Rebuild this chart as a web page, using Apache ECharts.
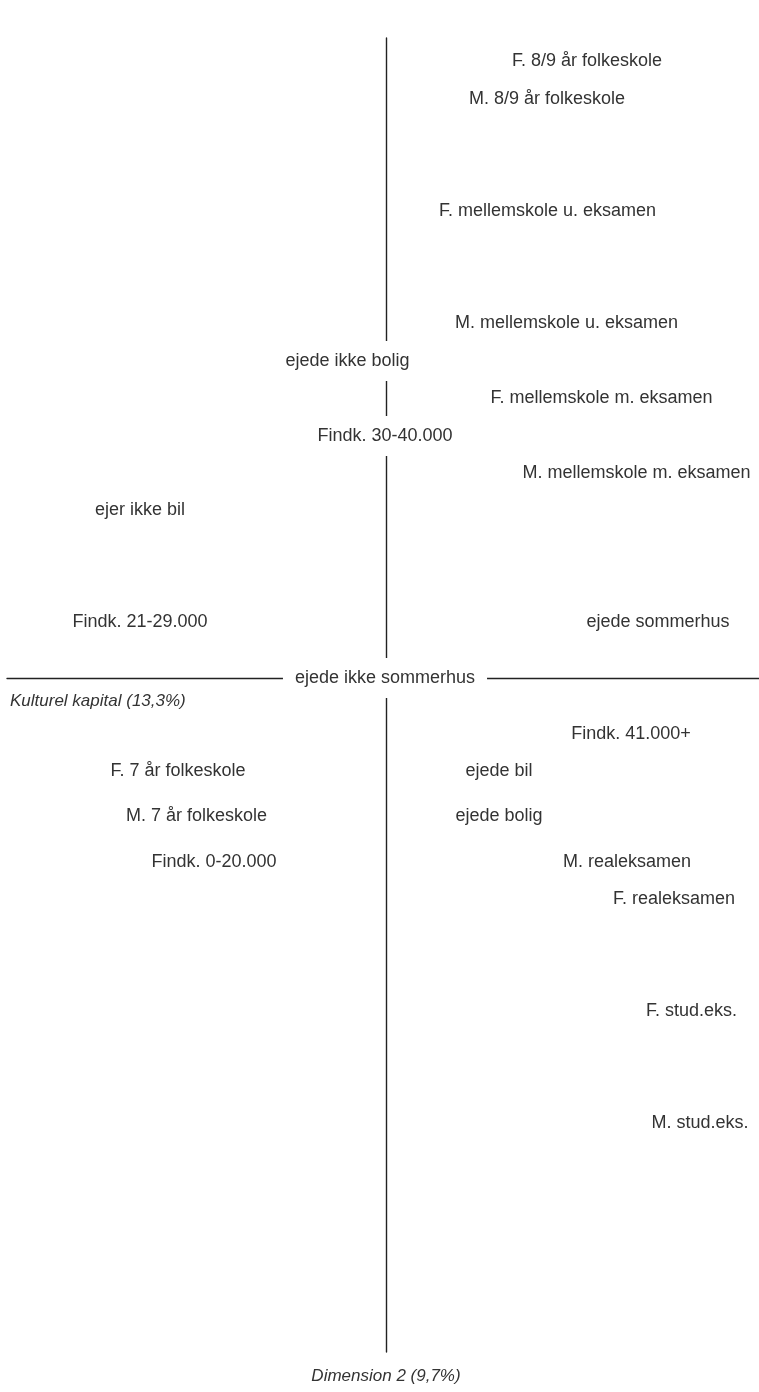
<!DOCTYPE html>
<html>
<head>
<meta charset="utf-8">
<script src="https://cdn.jsdelivr.net/npm/echarts@6/dist/echarts.min.js"></script>
<style>html,body{margin:0;padding:0;background:#fff}#c{width:759px;height:1392px}</style>
</head>
<body>
<div id="c"></div>
<script>
const labels = ["F. 8/9 år folkeskole","M. 8/9 år folkeskole","F. mellemskole u. eksamen","M. mellemskole u. eksamen","ejede ikke bolig","F. mellemskole m. eksamen","Findk. 30-40.000","M. mellemskole m. eksamen","ejer ikke bil","Findk. 21-29.000","ejede sommerhus","ejede ikke sommerhus","Findk. 41.000+","F. 7 år folkeskole","ejede bil","M. 7 år folkeskole","ejede bolig","Findk. 0-20.000","M. realeksamen","F. realeksamen","F. stud.eks.","M. stud.eks."];
const dim1 = [2.01,1.61,1.615,1.805,-0.385,2.155,-0.01,2.505,-2.46,-2.46,2.72,-0.01,2.45,-2.08,1.13,-1.895,1.13,-1.72,2.41,2.88,3.055,3.14];
const dim2 = [6.17,5.79,4.67,3.55,3.17,2.80,2.42,2.05,1.68,0.56,0.56,0.00,-0.56,-0.93,-0.93,-1.38,-1.38,-1.84,-1.84,-2.21,-3.33,-4.45];
const xTitle = "Kulturel kapital (13,3%)";
const yTitle = "Dimension 2 (9,7%)";

const FONT = "'Liberation Sans', Arial, sans-serif";
const chart = echarts.init(document.getElementById('c'), null, {renderer:'canvas'});
chart.setOption({
  animation:false,
  backgroundColor:'#fff',
  grid:{left:7,right:0,top:38,bottom:40,containLabel:false},
  xAxis:{type:'value',min:-3.79,max:3.73,
    axisLine:{onZero:true,lineStyle:{color:'#222',width:1.4}},
    axisTick:{show:false},axisLabel:{show:false},splitLine:{show:false}},
  yAxis:{type:'value',min:-6.74,max:6.40,
    axisLine:{onZero:true,lineStyle:{color:'#222',width:1.4}},
    axisTick:{show:false},axisLabel:{show:false},splitLine:{show:false}},
  graphic:[
    {type:'text',x:10,y:701,z:100,style:{text:xTitle,font:"italic 17px "+FONT,fill:'#333',textVerticalAlign:'middle'}},
    {type:'text',x:386,y:1376,z:100,style:{text:yTitle,font:"italic 17px "+FONT,fill:'#333',textAlign:'center',textVerticalAlign:'middle'}}
  ],
  series:[{
    type:'scatter',
    symbolSize:0,
    z:10,
    itemStyle:{opacity:1},
    data:labels.map((n,i)=>({name:n,value:[dim1[i],dim2[i]]})),
    label:{show:true,position:'inside',formatter:p=>p.name,opacity:1,
      fontFamily:FONT,fontSize:18,color:'#333',
      backgroundColor:'#fff',padding:[11,12]},
    emphasis:{disabled:true}
  }]
});
</script>
</body>
</html>
